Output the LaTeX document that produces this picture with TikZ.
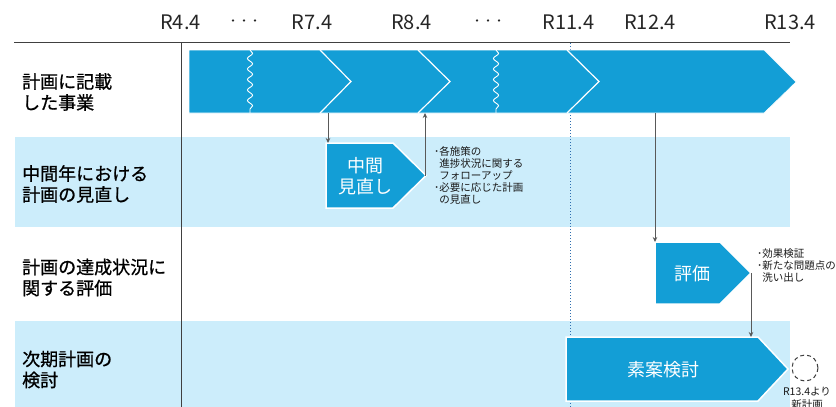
\documentclass[tikz,border=0pt]{standalone}
\usepackage{fontspec}
\setmainfont{Noto Sans CJK JP}
\newfontfamily\labelfont{Noto Sans CJK JP}[FakeBold=0.9]
\usetikzlibrary{decorations.pathmorphing,arrows.meta}
\definecolor{arrowblue}{HTML}{139ED6}
\definecolor{bandblue}{HTML}{CCEDFB}
\definecolor{linegray}{HTML}{595959}
\definecolor{dotblue}{HTML}{2F6FB0}
\definecolor{axisgray}{HTML}{404040}
\tikzset{
  hdr/.style={font=\fontsize{20}{22}\selectfont, text=black!85, inner sep=0pt},
  dots/.style={font=\fontsize{11}{12}\labelfont, text=black!85, inner sep=0pt},
  rowlabel/.style={font=\fontsize{18}{21}\labelfont, align=left, anchor=west, inner sep=0pt, text=black},
  boxtext/.style={font=\fontsize{18}{21}\selectfont, align=center, text=white, inner sep=0pt},
  small/.style={font=\fontsize{10.5}{12.2}\selectfont, align=left, anchor=north west, inner sep=0pt, text=black!90},
  band/.style={fill=bandblue, draw=none},
  pent/.style={fill=arrowblue, draw=white, line width=1.5pt},
  conn/.style={draw=linegray, line width=0.8pt, -{Stealth[length=5pt,width=4.5pt]}},
  chev/.style={draw=white, line width=1.2pt},
  wave/.style={draw=white, line width=0.9pt, decorate, decoration={snake, segment length=10.5pt, amplitude=2.6pt}},
}
\begin{document}
\begin{tikzpicture}[x=1pt,y=-1pt]
\useasboundingbox (0,0) rectangle (836,407);
% bands
\fill[band] (15,137) rectangle (790,227);
\fill[band] (15,321) rectangle (790,407);
% axis
\draw[axisgray, line width=1pt] (14,42) -- (790,42);
\draw[axisgray, line width=1pt] (181,42) -- (181,407);
% dotted line
\draw[dotblue, line width=1pt, dotted] (570,43) -- (570,407);
% header
\node[hdr] (h1) at (180.5,22) {R4.4};
\node[dots] (d1) at (244,22) {・・・};
\node[hdr] (h2) at (312,22) {R7.4};
\node[hdr] (h3) at (411.5,22) {R8.4};
\node[dots] (d2) at (488,22) {・・・};
\node[hdr] (h4) at (568.5,22) {R11.4};
\node[hdr] (h5) at (650,22) {R12.4};
\node[hdr] (h6) at (790,22) {R13.4};
% row labels
\node[rowlabel] (r1) at (22,92) {計画に記載\\した事業};
\node[rowlabel] (r2) at (22,184) {中間年における\\計画の見直し};
\node[rowlabel] (r3) at (22,277.5) {計画の達成状況に\\関する評価};
\node[rowlabel] (r4) at (22,369.5) {次期計画の\\検討};
% big arrow
\draw[fill=arrowblue, draw=white, line width=0.6pt] (189,50) -- (764,50) -- (796,82) -- (764,113) -- (189,113) -- cycle;
\draw[chev] (320,50) -- (351,81.5) -- (320,113);
\draw[chev] (418,50) -- (450,81.5) -- (418,113);
\draw[chev] (567,50) -- (599,81.5) -- (567,113);
\draw[wave] (250,50) -- (250,113);
\draw[wave] (496,50) -- (496,113);
\coordinate (bigA) at (328,113);
\coordinate (bigB) at (425,113);
\coordinate (bigC) at (655,113);
% mid review box
\draw[pent] (326,143) -- (393,143) -- (426,175.5) -- (393,208) -- (326,208) -- cycle;
\node[boxtext] (mid) at (365,176) {中間\\見直し};
\coordinate (midTop) at (328,143);
\coordinate (midTip) at (425,175.5);
\node[small] (midnote) at (434,146) {･各施策の\\\hphantom{･}進捗状況に関する\\\hphantom{･}フォローアップ\\･必要に応じた計画\\\hphantom{･}の見直し};
% evaluation box
\draw[pent] (655,242) -- (720,242) -- (751,273) -- (720,304) -- (655,304) -- cycle;
\node[boxtext] (eval) at (692,274) {評価};
\coordinate (evalTop) at (655,242);
\coordinate (evalTip) at (751,273);
\node[small] (evalnote) at (757,248) {･効果検証\\･新たな問題点の\\\hphantom{･}洗い出し};
% draft box
\draw[pent] (566,337) -- (758,337) -- (788,369) -- (758,401) -- (566,401) -- cycle;
\node[boxtext] (draft) at (663,370) {素案検討};
\coordinate (draftTop) at (751,337);
% dashed circle
\draw[axisgray, line width=1pt, dash pattern=on 4pt off 3pt] (805,368) circle (13);
\node[font=\fontsize{10.5}{12.5}\selectfont, align=center, anchor=north, inner sep=0pt, text=black!90] (newplan) at (807,387) {R13.4より\\新計画};
% connectors
\draw[conn] (bigA) -- (midTop);
\draw[conn] (midTip) -- (bigB);
\draw[conn] (bigC) -- (evalTop);
\draw[conn] (evalTip) -- (draftTop);
\end{tikzpicture}
\end{document}
